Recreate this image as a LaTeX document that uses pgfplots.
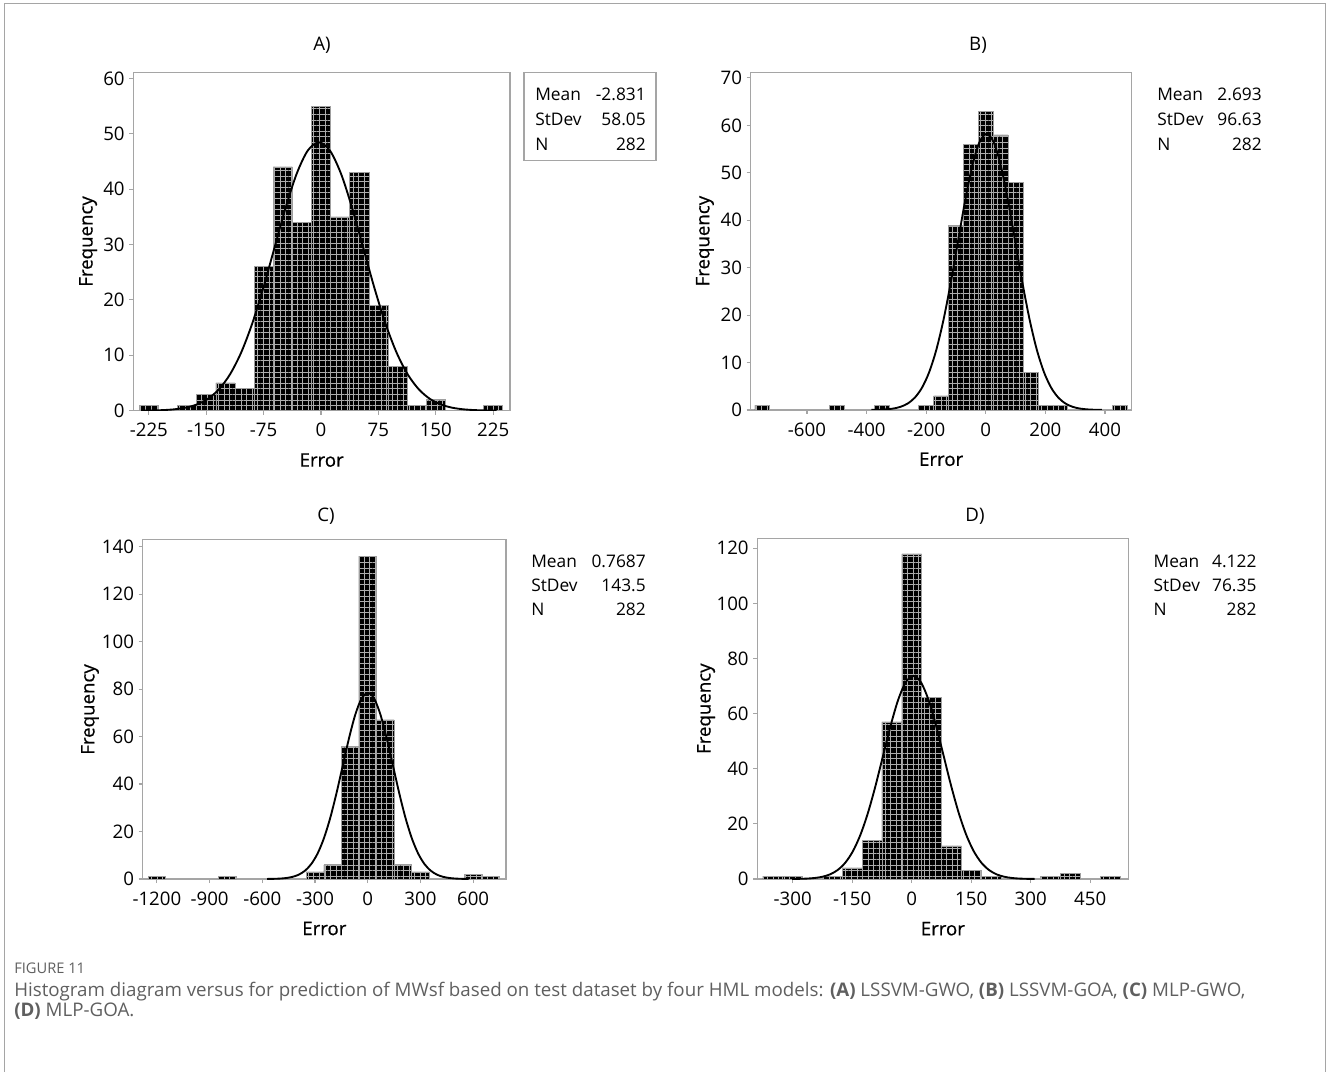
\documentclass[border=0pt]{standalone}
\usepackage{fontspec}
\setmainfont{Open Sans}
\usepackage{pgfplots}
\pgfplotsset{compat=1.18}
\usetikzlibrary{patterns.meta}
\definecolor{framegray}{RGB}{165,165,165}
\definecolor{captiongray}{RGB}{95,95,95}
\newcommand{\tickfont}{\fontsize{14}{16}\selectfont}
\newcommand{\labfont}{\fontsize{14}{16}\selectfont\addfontfeature{FakeBold=0.6}}
\newcommand{\statfont}{\fontsize{13}{15}\selectfont}
\pgfplotsset{
  hist/.style={
    scale only axis, anchor=south west,
    ymin=0,
    axis line style={framegray, line width=0.8pt},
    tick style={framegray, line width=0.8pt},
    tick align=outside, tick pos=left,
    major tick length=3pt,
    /pgf/number format/assume math mode=true,
    ticklabel style={font=\tickfont, text=black},
    xticklabel style={yshift=-3pt},
    label style={font=\labfont},
    xlabel=Error, ylabel=Frequency,
    xlabel style={at={(axis description cs:0.5,-0.146)}, anchor=center},
  },
  bars/.style={ybar, fill=black, draw=gray!75, line width=0.4pt,
    postaction={pattern={Hatch[distance=4.2pt,line width=0.45pt]}, pattern color=gray!65}},
  fit/.style={black, line width=1.4pt, smooth, mark=none},
}
\begin{document}
\begin{tikzpicture}
\path[use as bounding box] (0,0) rectangle (996pt,804pt);
\draw[framegray, line width=0.75pt] (3pt,0) -- (3pt,801pt) -- (993.75pt,801pt) -- (993.75pt,0);

% ---------- A ----------
\begin{axis}[hist, at={(100pt,496pt)}, width=282.5pt, height=253.8pt,
  xmin=-245.3, xmax=247, ymax=61.1,
  xtick={-225,-150,-75,0,75,150,225}, xticklabels={-225,-150,-75,0,75,150,225},
  ytick={0,10,...,60},
  ylabel style={at={(axis description cs:-0.12,0.5)}, anchor=center}]
\addplot[bars, bar width=25] coordinates {
(-225,1) (-175,1) (-150,3) (-125,5) (-100,4) (-75,26) (-50,44) (-25,34)
(0,55) (25,35) (50,43) (75,19) (100,8) (125,1) (150,2) (225,1)};
\addplot[fit] coordinates {
(-235.03,0.016) (-220.52,0.043) (-206.01,0.106) (-191.49,0.246) (-176.98,0.538)
(-162.47,1.104) (-147.96,2.129) (-133.44,3.855) (-118.93,6.557) (-104.42,10.48)
(-89.91,15.73) (-75.39,22.18) (-60.88,29.39) (-46.37,36.57) (-31.86,42.76)
(-17.34,46.96) (-2.83,48.45) (11.68,46.96) (26.19,42.76) (40.71,36.57)
(55.22,29.39) (69.73,22.18) (84.24,15.73) (98.76,10.48) (113.27,6.557)
(127.78,3.855) (142.29,2.129) (156.81,1.104) (171.32,0.538) (185.83,0.246)
(200.34,0.106) (214.86,0.043) (229.37,0.016)};
\end{axis}

% ---------- B ----------
\begin{axis}[hist, at={(563pt,496.5pt)}, width=285.75pt, height=253.3pt,
  xmin=-789, xmax=489.6, ymax=71.2,
  xtick={-600,-400,-200,0,200,400}, xticklabels={-600,-400,-200,0,200,400},
  ytick={0,10,...,70},
  ylabel style={at={(axis description cs:-0.12,0.5)}, anchor=center}]
\addplot[bars, bar width=50] coordinates {
(-750,1) (-500,1) (-350,1) (-200,1) (-150,3) (-100,39) (-50,56) (0,63)
(50,58) (100,48) (150,8) (200,1) (250,1) (450,1)};
\addplot[fit] coordinates {
(-383.83,0.020) (-359.67,0.051) (-335.51,0.127) (-311.35,0.296) (-287.20,0.647)
(-263.04,1.327) (-238.88,2.558) (-214.72,4.631) (-190.57,7.878) (-166.41,12.59)
(-142.25,18.90) (-118.09,26.65) (-93.94,35.31) (-69.78,43.94) (-45.62,51.37)
(-21.46,56.42) (2.69,58.21) (26.85,56.42) (51.01,51.37) (75.17,43.94)
(99.32,35.31) (123.48,26.65) (147.64,18.90) (171.80,12.59) (195.95,7.878)
(220.11,4.631) (244.27,2.558) (268.43,1.327) (292.58,0.647) (316.74,0.296)
(340.90,0.127) (365.06,0.051) (389.21,0.020)};
\end{axis}

% ---------- C ----------
\begin{axis}[hist, at={(107pt,144.75pt)}, width=272.5pt, height=254.3pt,
  xmin=-1281, xmax=787, ymax=142.8,
  xtick={-1200,-900,-600,-300,0,300,600}, xticklabels={-1200,-900,-600,-300,0,300,600},
  ytick={0,20,...,140},
  ylabel style={at={(axis description cs:-0.145,0.5)}, anchor=center}]
\addplot[bars, bar width=100] coordinates {
(-1200,1) (-800,1) (-300,3) (-200,6) (-100,56) (0,136) (100,67) (200,6)
(300,3) (600,2) (700,1)};
\addplot[fit] coordinates {
(-573.23,0.026) (-537.36,0.069) (-501.48,0.171) (-465.61,0.399) (-429.73,0.871)
(-393.86,1.787) (-357.98,3.445) (-322.11,6.237) (-286.23,10.61) (-250.36,16.96)
(-214.48,25.45) (-178.61,35.89) (-142.73,47.55) (-106.86,59.18) (-70.98,69.19)
(-35.11,75.99) (0.77,78.40) (36.64,75.99) (72.52,69.19) (108.39,59.18)
(144.27,47.55) (180.14,35.89) (216.02,25.45) (251.89,16.96) (287.77,10.61)
(323.64,6.237) (359.52,3.445) (395.39,1.787) (431.27,0.871) (467.14,0.399)
(503.02,0.171) (538.89,0.069) (574.77,0.026)};
\end{axis}

% ---------- D ----------
\begin{axis}[hist, at={(568pt,144.75pt)}, width=278.25pt, height=255.5pt,
  xmin=-389, xmax=546, ymax=123.6,
  xtick={-300,-150,0,150,300,450}, xticklabels={-300,-150,0,150,300,450},
  ytick={0,20,...,120},
  ylabel style={at={(axis description cs:-0.138,0.5)}, anchor=center}]
\addplot[bars, bar width=50] coordinates {
(-350,1) (-300,1) (-200,1) (-150,4) (-100,14) (-50,57) (0,118) (50,66)
(100,12) (150,3) (200,1) (350,1) (400,2) (500,1)};
\addplot[fit] coordinates {
(-301.28,0.025) (-282.19,0.065) (-263.10,0.161) (-244.02,0.375) (-224.93,0.819)
(-205.84,1.679) (-186.75,3.238) (-167.67,5.862) (-148.58,9.972) (-129.49,15.93)
(-110.40,23.92) (-91.32,33.73) (-72.23,44.69) (-53.14,55.62) (-34.05,65.02)
(-14.97,71.41) (4.12,73.68) (23.21,71.41) (42.30,65.02) (61.38,55.62)
(80.47,44.69) (99.56,33.73) (118.65,23.92) (137.73,15.93) (156.82,9.972)
(175.91,5.862) (195.00,3.238) (214.08,1.679) (233.17,0.819) (252.26,0.375)
(271.35,0.161) (290.43,0.065) (309.52,0.025)};
\end{axis}

% ---------- titles ----------
\node[font=\tickfont] at (241.5pt,770.25pt) {A)};
\node[font=\tickfont] at (733.5pt,770.25pt) {B)};
\node[font=\tickfont] at (244.5pt,417pt) {C)};
\node[font=\tickfont] at (731.25pt,417pt) {D)};

% ---------- stats ----------
\draw[framegray, line width=0.8pt] (393pt,683.5pt) rectangle (492pt,749.8pt);
\begin{scope}[every node/.style={font=\statfont, inner sep=0pt}]
\node[anchor=base west] at (401.25pt,728.5pt) {Mean};
\node[anchor=base west] at (401.25pt,709.8pt) {StDev};
\node[anchor=base west] at (401.25pt,691.0pt) {N};
\node[anchor=base east] at (484.5pt,728.5pt) {-2.831};
\node[anchor=base east] at (484.5pt,709.8pt) {58.05};
\node[anchor=base east] at (484.5pt,691.0pt) {282};

\node[anchor=base west] at (867.75pt,728.5pt) {Mean};
\node[anchor=base west] at (867.75pt,709.8pt) {StDev};
\node[anchor=base west] at (867.75pt,691.0pt) {N};
\node[anchor=base east] at (946.5pt,728.5pt) {2.693};
\node[anchor=base east] at (946.5pt,709.8pt) {96.63};
\node[anchor=base east] at (946.5pt,691.0pt) {282};

\node[anchor=base west] at (398.25pt,378.2pt) {Mean};
\node[anchor=base west] at (398.25pt,360.4pt) {StDev};
\node[anchor=base west] at (398.25pt,342.6pt) {N};
\node[anchor=base east] at (484.5pt,378.2pt) {0.7687};
\node[anchor=base east] at (484.5pt,360.4pt) {143.5};
\node[anchor=base east] at (484.5pt,342.6pt) {282};

\node[anchor=base west] at (865pt,378.2pt) {Mean};
\node[anchor=base west] at (865pt,360.4pt) {StDev};
\node[anchor=base west] at (865pt,342.6pt) {N};
\node[anchor=base east] at (942.5pt,378.2pt) {4.122};
\node[anchor=base east] at (942.5pt,360.4pt) {76.35};
\node[anchor=base east] at (942.5pt,342.6pt) {282};
\end{scope}

% ---------- caption ----------
\begin{scope}[every node/.style={inner sep=0pt, anchor=base west, text=captiongray}]
\node[font=\fontsize{11}{13}\selectfont] at (10.5pt,74pt) {FIGURE 11};
\node[font=\fontsize{14.05}{16}\selectfont] at (10.5pt,57pt) {Histogram diagram versus for prediction of MWsf based on test dataset by four HML models: \textbf{(A)} LSSVM-GWO, \textbf{(B)} LSSVM-GOA, \textbf{(C)} MLP-GWO,};
\node[font=\fontsize{14.05}{16}\selectfont] at (10.5pt,41.5pt) {\textbf{(D)} MLP-GOA.};
\end{scope}
\end{tikzpicture}
\end{document}
